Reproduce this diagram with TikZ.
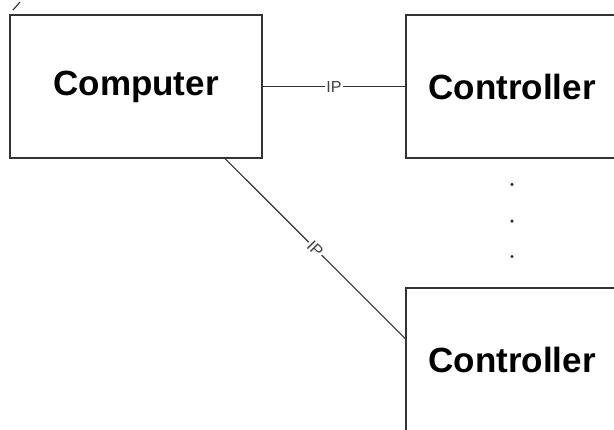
\documentclass[tikz,border=0pt]{standalone}
\usepackage{fontspec}
\setmainfont{Liberation Sans}
\usetikzlibrary{calc}

\begin{document}
\begin{tikzpicture}[node distance=376pt]
      % fixed frame, the controller boxes run off the right and bottom edges
      \useasboundingbox (0pt,0pt) rectangle (614pt,-430pt);
      \clip (0pt,0pt) rectangle (614pt,-430pt);
      \tikzstyle{unit} = [rectangle, draw=black!80, line width=1.3pt, minimum width=252pt, minimum height=143pt, text centered, font=\fontsize{35}{40}\selectfont\bfseries]
      \tikzstyle{link} = [draw=black!80, line width=1.1pt]
      \tikzstyle{proto} = [fill=white, inner sep=1.5pt, text=black!75, font=\fontsize{16}{18}\selectfont]
        \node [unit] (computer) at (136pt,-86.5pt) {Computer};
        \node [unit, right of = computer, minimum width = 212pt] (ctrl) {Controller};
        \node [unit, below of = ctrl, node distance = 273pt, minimum width = 212pt] (ctrlb) {Controller};
        \path [link] (computer) -- node [proto] {IP} (ctrl);
        \path [link] (computer.-39) -- node [proto, sloped] {IP} (ctrlb.169);
        % more controllers in between
        \foreach \f in {0.2,0.485,0.76}
          \fill [black!85] ($(ctrl.south)!\f!(ctrlb.north)$) circle (1.7pt);
        \draw [link] (13pt,-10pt) -- (20pt,-2pt);
      \end{tikzpicture}
\end{document}
